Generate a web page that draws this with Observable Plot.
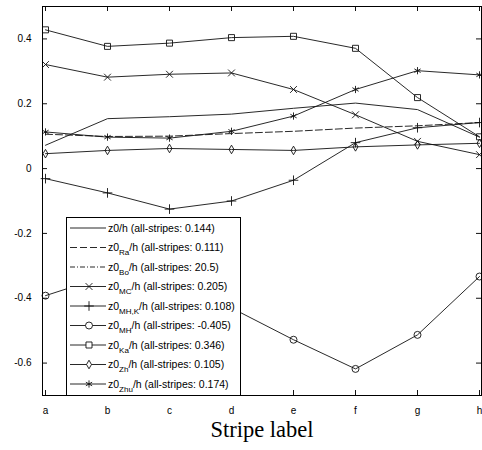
<!DOCTYPE html>
<html><head><meta charset="utf-8">
<script src="https://cdn.jsdelivr.net/npm/d3@7"></script>
<script src="https://cdn.jsdelivr.net/npm/@observablehq/plot@0.6"></script>
<style>body{margin:0;background:#fff} #chart{width:482px;height:450px}</style>
</head><body><div id="chart"></div>
<script>
const stripes = ["a","b","c","d","e","f","g","h"];
const z0h   = [0.072, 0.154, 0.160, 0.168, 0.186, 0.202, 0.182, 0.097];
const z0Ra  = [0.106, 0.099, 0.100, 0.108, 0.115, 0.125, 0.132, 0.142];
const z0MC  = [0.321, 0.282, 0.291, 0.295, 0.244, 0.166, 0.084, 0.043];
const z0MHK = [-0.031, -0.075, -0.125, -0.100, -0.036, 0.080, 0.126, 0.142];
const z0MH  = [-0.392, -0.33, -0.38, -0.43, -0.528, -0.618, -0.513, -0.333];
const z0Ka  = [0.428, 0.377, 0.387, 0.404, 0.408, 0.371, 0.219, 0.098];
const z0Zh  = [0.046, 0.056, 0.062, 0.059, 0.056, 0.067, 0.073, 0.078];
const z0Zhu = [0.113, 0.097, 0.094, 0.115, 0.162, 0.244, 0.302, 0.289];
const yTicks = [-0.6, -0.4, -0.2, 0, 0.2, 0.4];
const legendSubs = ["", "Ra", "Bo", "MC", "MH,K", "MH", "Ka", "Zh", "Zhu"];
const legendMeans = ["0.144", "0.111", "20.5", "0.205", "0.108", "-0.405", "0.346", "0.105", "0.174"];
const xLabel = "Stripe label";

const ink = "#111";
const series = [
  {values: z0h,   symbol: null},
  {values: z0Ra,  symbol: null, dash: "7,3"},
  {values: null,  symbol: null, dash: "5,2,1,2"},
  {values: z0MC,  symbol: "times", r: 3.2},
  {values: z0MHK, symbol: "plus", r: 3.2},
  {values: z0MH,  symbol: "circle", r: 3.5},
  {values: z0Ka,  symbol: "square", r: 3.4},
  {values: z0Zh,  symbol: "diamond", r: 2.6},
  {values: z0Zhu, symbol: "asterisk", r: 3.4}
];

const marks = [];
series.forEach((s) => {
  if (!s.values) return;
  const data = stripes.map((st, i) => ({stripe: st, v: s.values[i]}));
  marks.push(Plot.line(data, {x: "stripe", y: "v", stroke: ink, strokeWidth: 0.9, strokeDasharray: s.dash || null}));
  if (s.symbol) marks.push(Plot.dot(data, {x: "stripe", y: "v", symbol: s.symbol, r: s.r, stroke: ink, strokeWidth: 0.9, fill: s.symbol === "asterisk" ? ink : "none"}));
});

const chart = Plot.plot({
  width: 482, height: 450,
  marginLeft: 42, marginRight: 1, marginTop: 6, marginBottom: 55,
  style: {fontFamily: "Liberation Sans, Arial, sans-serif", fontSize: "10px", background: "#fff", color: "#000"},
  x: {type: "point", domain: stripes, padding: 0, label: null},
  y: {domain: [-0.7, 0.5], label: null},
  marks: [
    ...marks,
    Plot.ruleY(yTicks, {insetRight: 434, stroke: ink}),
    Plot.ruleY(yTicks, {insetLeft: 434, stroke: ink}),
    Plot.ruleX(stripes, {insetBottom: 384, stroke: ink}),
    Plot.ruleX(stripes, {insetTop: 384, stroke: ink}),
    Plot.frame({stroke: "#000"}),
    Plot.axisY(yTicks, {tickSize: 0, tickPadding: 11, fontSize: 10, label: null, tickFormat: d => d === 0 ? "0" : d.toFixed(1)}),
    Plot.axisX({tickSize: 0, tickPadding: 11, fontSize: 10, label: null}),
    Plot.text([xLabel], {frameAnchor: "bottom", lineAnchor: "middle", dy: 34, fontFamily: "Liberation Serif, Times New Roman, serif", fontSize: 22.5, fill: "#000"})
  ]
});
document.getElementById("chart").appendChild(chart);

// legend box inside the plot
const svg = d3.select(chart);
const lg = svg.append("g").attr("text-anchor", "start");
const bx = 66, by = 217, bw = 174, bh = 178;
lg.append("rect").attr("x", bx + 0.5).attr("y", by + 0.5).attr("width", bw).attr("height", bh)
  .attr("fill", "#fff").attr("stroke", "#000").attr("stroke-width", 1);
const symMap = {times: d3.symbolTimes, plus: d3.symbolPlus, circle: d3.symbolCircle, square: d3.symbolSquare, diamond: d3.symbolDiamond, asterisk: d3.symbolAsterisk};
series.forEach((s, i) => {
  const cy = 228 + 19.5 * i;
  lg.append("line").attr("x1", 70).attr("x2", 106).attr("y1", cy).attr("y2", cy)
    .attr("stroke", ink).attr("stroke-width", 0.9).attr("stroke-dasharray", s.dash || null);
  if (s.symbol) {
    lg.append("path").attr("transform", `translate(89,${cy})`)
      .attr("d", d3.symbol(symMap[s.symbol], Math.PI * s.r * s.r)())
      .attr("fill", s.symbol === "asterisk" ? ink : (s.symbol === "circle" || s.symbol === "square" || s.symbol === "diamond" ? "#fff" : "none"))
      .attr("stroke", ink).attr("stroke-width", 0.9);
  }
  const t = lg.append("text").attr("x", 108).attr("y", cy + 3.6).attr("text-anchor", "start")
    .attr("font-family", "Liberation Sans, Arial, sans-serif").attr("font-size", 10.5).attr("fill", "#000");
  t.append("tspan").text("z0");
  if (legendSubs[i]) {
    t.append("tspan").attr("font-size", 8).attr("dy", 4).text(legendSubs[i]);
    t.append("tspan").attr("dy", -4).text(`/h (all-stripes: ${legendMeans[i]})`);
  } else {
    t.append("tspan").text(`/h (all-stripes: ${legendMeans[i]})`);
  }
});
</script>
</body></html>
